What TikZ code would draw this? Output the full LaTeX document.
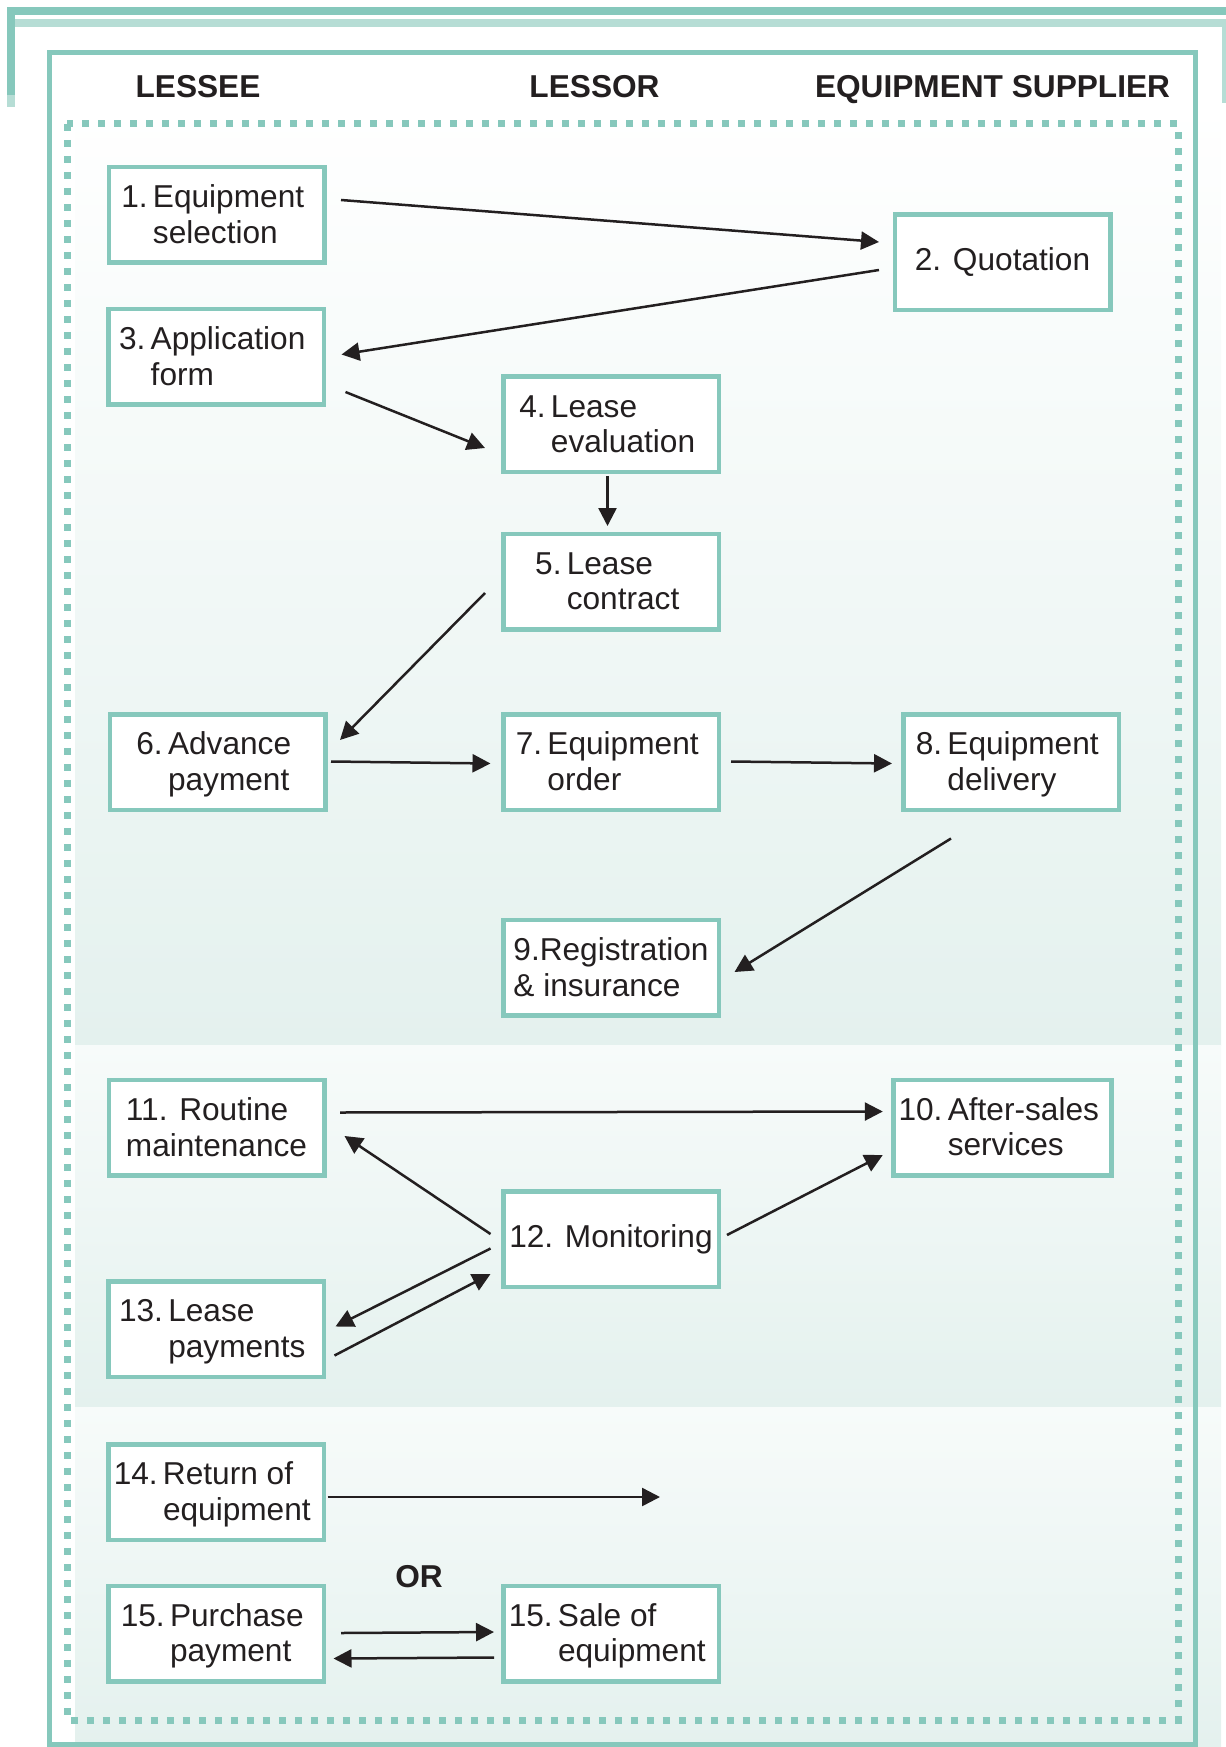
\documentclass[tikz,border=0pt]{standalone}
\usepackage{fontspec}
\setmainfont{Liberation Sans}
\usepackage{xcolor}
\usetikzlibrary{arrows.meta,positioning}
\definecolor{tealline}{RGB}{134,200,188}
\definecolor{teallight}{RGB}{182,221,213}
\definecolor{bandlow}{RGB}{228,241,238}
\definecolor{bandhigh}{RGB}{247,251,250}
\definecolor{ink}{RGB}{35,31,32}
\newcommand{\stagetext}[3]{\begin{tabular}{@{}l@{\,}l@{}}\rule{0pt}{18pt}#1&#2\\&#3\end{tabular}\kern0.15cm}

\begin{document}
\begin{tikzpicture}[
  stage/.style={draw=tealline,line width=0.09cm,fill=white,minimum width=4.31cm,
                minimum height=1.91cm,inner sep=0.1cm,align=left,text=ink,
                font=\fontsize{18}{20.3}\selectfont},
  head/.style={anchor=base,text=ink,font=\fontsize{18}{20}\selectfont\bfseries},
  ar/.style={-{Triangle[length=0.36cm,width=0.36cm]},line width=0.05cm,draw=ink}
]
\useasboundingbox (0,0) rectangle (24.5,-34.94);
% background bands
\shade[top color=white,bottom color=bandlow] (1.5,-2.08) rectangle (24.42,-20.9);
\shade[top color=bandhigh,bottom color=bandlow] (1.5,-20.9) rectangle (24.42,-28.14);
\shade[top color=bandhigh,bottom color=bandlow] (1.5,-28.14) rectangle (24.42,-34.94);

% frames
\draw[tealline,line width=0.155cm] (0.22,-1.9) -- (0.22,-0.22) -- (24.6,-0.22);
\draw[teallight,line width=0.155cm] (0.22,-1.9) -- (0.22,-2.14);
\draw[teallight,line width=0.16cm] (0.3,-0.46) -- (24.52,-0.46) -- (24.52,-2.06);
\draw[tealline,line width=0.1cm] (0.98,-1.06) rectangle (23.91,-34.88);
\draw[tealline,line width=0.14cm,dash pattern=on 0.14cm off 0.18cm]
  (1.34,-2.48) rectangle (23.56,-34.4);

\node[head] (lessee)   at (3.96,-1.96)  {LESSEE};
\node[head] (lessor)   at (11.89,-1.96) {LESSOR};
\node[head] (supplier) at (19.85,-1.96) {EQUIPMENT SUPPLIER};

\node[stage] (s1)   at (4.33,-4.30)   {\stagetext{1.}{Equipment}{selection}};
\node[stage] (s2)   at (20.05,-5.25)  {2. Quotation};
\node[stage] (s3)   at (4.32,-7.14)   {\stagetext{3.}{Application}{form}};
\node[stage] (s4)   at (12.22,-8.49)  {\stagetext{4.}{Lease}{evaluation}};
\node[stage] (s5)   at (12.22,-11.63) {\stagetext{5.}{Lease}{contract}};
\node[stage] (s6)   at (4.35,-15.24)  {\stagetext{6.}{Advance}{payment}};
\node[stage] (s7)   at (12.22,-15.24) {\stagetext{7.\ }{Equipment}{order}};
\node[stage] (s8)   at (20.22,-15.24) {\stagetext{8.}{Equipment}{delivery}};
\node[stage] (s9)   at (12.22,-19.35) {9.Registration\\\& insurance};
\node[stage] (s10)  at (20.05,-22.55) {\stagetext{10.}{After-sales}{services}};
\node[stage] (s11)  at (4.33,-22.55)  {11. Routine\\maintenance};
\node[stage] (s12)  at (12.22,-24.78) {12. Monitoring};
\node[stage] (s13)  at (4.32,-26.58)  {\stagetext{13.}{Lease}{payments}};
\node[stage] (s14)  at (4.32,-29.84)  {\stagetext{14.}{Return of}{equipment}};
\node[stage] (s15a) at (4.32,-32.67)  {\stagetext{15.}{Purchase}{payment}};
\node[stage] (s15b) at (12.22,-32.67) {\stagetext{15.}{Sale of}{equipment}};
\node[head] (or) at (8.38,-31.74) {OR};
\coordinate (ret) at (13.2,-29.94);

\draw[ar] ([shift={(0.29,0.30)}]s1.east)   -- ([shift={(-0.27,0.41)}]s2.west);
\draw[ar] ([shift={(-0.27,-0.15)}]s2.west) -- ([shift={(0.31,0.05)}]s3.east);
\draw[ar] ([shift={(0.39,-0.70)}]s3.east)  -- ([shift={(-0.32,-0.47)}]s4.west);
\draw[ar] ([shift={(-0.07,-0.03)}]s4.south) -- ([shift={(-0.07,0.11)}]s5.north);
\draw[ar] ([shift={(-0.32,-0.23)}]s5.west) -- ([shift={(0.25,0.44)}]s6.east);
\draw[ar] ([shift={(0.07,0.01)}]s6.east)   -- ([shift={(-0.21,-0.03)}]s7.west);
\draw[ar] ([shift={(0.20,0.01)}]s7.east)   -- ([shift={(-0.18,-0.03)}]s8.west);
\draw[ar] ([shift={(-1.20,-0.53)}]s8.south) -- ([shift={(0.27,-0.09)}]s9.east);
\draw[ar] ([shift={(0.27,0.30)}]s11.east)  -- ([shift={(-0.17,0.32)}]s10.west);
\draw[ar] ([shift={(-0.21,0.10)}]s12.west) -- ([shift={(0.36,-0.17)}]s11.east);
\draw[ar] ([shift={(0.12,0.08)}]s12.east)  -- ([shift={(-0.17,-0.55)}]s10.west);
\draw[ar] ([shift={(-0.21,-0.19)}]s12.west) -- ([shift={(0.19,0.05)}]s13.east);
\draw[ar] ([shift={(0.17,-0.53)}]s13.east) -- ([shift={(-0.21,-0.70)}]s12.west);
\draw[ar] ([shift={(0.03,-0.10)}]s14.east) -- (ret);
\draw[ar] ([shift={(0.30,0.01)}]s15a.east) -- ([shift={(-0.14,0.03)}]s15b.west);
\draw[ar] ([shift={(-0.14,-0.48)}]s15b.west) -- ([shift={(0.15,-0.50)}]s15a.east);
\end{tikzpicture}
\end{document}
